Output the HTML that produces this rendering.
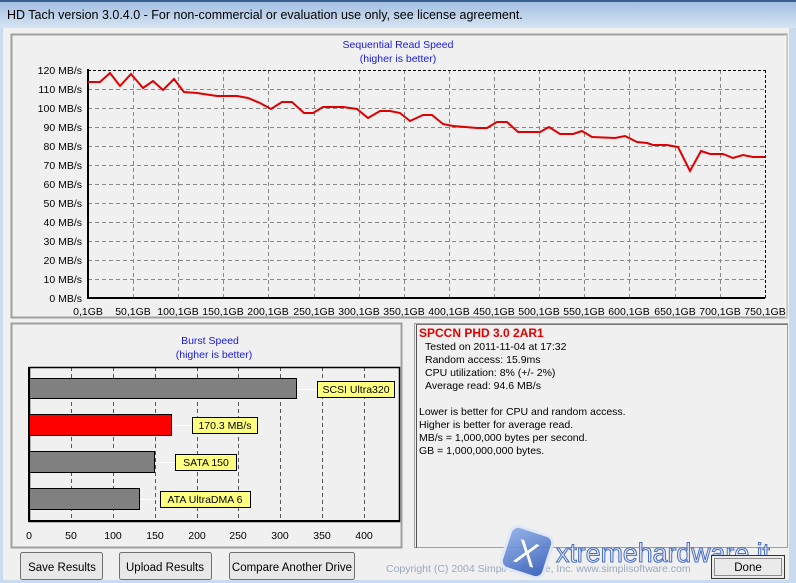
<!DOCTYPE html>
<html><head><meta charset="utf-8"><style>
html,body{margin:0;padding:0;width:796px;height:583px;overflow:hidden;background:#f0f0f0}
text{font-family:"Liberation Sans",Arial,sans-serif}
</style></head><body>
<svg width="796" height="583" xmlns="http://www.w3.org/2000/svg">
<defs>
<linearGradient id="tb" x1="0" y1="0" x2="0" y2="1"><stop offset="0" stop-color="#9fbce0"/><stop offset="1" stop-color="#d6e4f3"/></linearGradient>
<linearGradient id="wm" x1="0" y1="0" x2="1" y2="1"><stop offset="0" stop-color="#8fb0e8"/><stop offset="1" stop-color="#2f58b8"/></linearGradient>
</defs>
<rect x="0" y="0" width="796" height="583" fill="#c9dbef"/>
<rect x="0" y="0" width="796" height="28" fill="url(#tb)"/>
<rect x="0" y="0" width="796" height="2" fill="#3a5f8f"/>
<text x="7" y="19" font-size="12.5" fill="#000">HD Tach version 3.0.4.0  - For non-commercial or evaluation use only, see license agreement.</text>
<rect x="3" y="28" width="786" height="552" fill="#f0f0f0"/>
<rect x="11.5" y="34.5" width="775" height="283" fill="#f0f0f0" stroke="#a0a0a0" stroke-width="2"/>
<line x1="786" y1="35" x2="786" y2="318" stroke="#fff"/>
<text x="398" y="48" font-size="10.5" fill="#1a1adc" text-anchor="middle">Sequential Read Speed</text>
<text x="398" y="62" font-size="10.5" fill="#1a1adc" text-anchor="middle">(higher is better)</text>
<g stroke="#888" stroke-dasharray="4,3" stroke-width="1">
<line x1="88" y1="89.5" x2="765" y2="89.5"/><line x1="88" y1="108.5" x2="765" y2="108.5"/><line x1="88" y1="127.5" x2="765" y2="127.5"/><line x1="88" y1="146.5" x2="765" y2="146.5"/><line x1="88" y1="165.5" x2="765" y2="165.5"/><line x1="88" y1="184.5" x2="765" y2="184.5"/><line x1="88" y1="203.5" x2="765" y2="203.5"/><line x1="88" y1="222.5" x2="765" y2="222.5"/><line x1="88" y1="241.5" x2="765" y2="241.5"/><line x1="88" y1="260.5" x2="765" y2="260.5"/><line x1="88" y1="279.5" x2="765" y2="279.5"/>
<line x1="133.5" y1="70" x2="133.5" y2="298"/><line x1="178.5" y1="70" x2="178.5" y2="298"/><line x1="223.5" y1="70" x2="223.5" y2="298"/><line x1="268.5" y1="70" x2="268.5" y2="298"/><line x1="314.5" y1="70" x2="314.5" y2="298"/><line x1="359.5" y1="70" x2="359.5" y2="298"/><line x1="404.5" y1="70" x2="404.5" y2="298"/><line x1="449.5" y1="70" x2="449.5" y2="298"/><line x1="494.5" y1="70" x2="494.5" y2="298"/><line x1="539.5" y1="70" x2="539.5" y2="298"/><line x1="584.5" y1="70" x2="584.5" y2="298"/><line x1="629.5" y1="70" x2="629.5" y2="298"/><line x1="675.5" y1="70" x2="675.5" y2="298"/><line x1="720.5" y1="70" x2="720.5" y2="298"/>
</g>
<g stroke="#000" stroke-dasharray="3,2"><line x1="88" y1="70.5" x2="765" y2="70.5"/><line x1="765.5" y1="70" x2="765.5" y2="298"/></g>
<g stroke="#000" stroke-width="2"><line x1="88" y1="69" x2="88" y2="299"/><line x1="87" y1="298" x2="765" y2="298"/></g>
<g font-size="10.5" fill="#000" text-anchor="end">
<text x="82" y="74">120 MB/s</text><text x="82" y="93">110 MB/s</text><text x="82" y="112">100 MB/s</text><text x="82" y="131">90 MB/s</text><text x="82" y="150">80 MB/s</text><text x="82" y="169">70 MB/s</text><text x="82" y="188">60 MB/s</text><text x="82" y="207">50 MB/s</text><text x="82" y="226">40 MB/s</text><text x="82" y="245">30 MB/s</text><text x="82" y="264">20 MB/s</text><text x="82" y="283">10 MB/s</text><text x="82" y="302">0 MB/s</text>
</g>
<g font-size="10.5" fill="#000" text-anchor="middle">
<text x="88" y="315">0,1GB</text><text x="133" y="315">50,1GB</text><text x="178" y="315">100,1GB</text><text x="223" y="315">150,1GB</text><text x="268" y="315">200,1GB</text><text x="314" y="315">250,1GB</text><text x="359" y="315">300,1GB</text><text x="404" y="315">350,1GB</text><text x="449" y="315">400,1GB</text><text x="494" y="315">450,1GB</text><text x="539" y="315">500,1GB</text><text x="584" y="315">550,1GB</text><text x="629" y="315">600,1GB</text><text x="675" y="315">650,1GB</text><text x="720" y="315">700,1GB</text><text x="765" y="315">750,1GB</text>
</g>
<polyline fill="none" stroke="#e00000" stroke-width="2" points="88,82 100,82 110,73 120,86 131,74 143,88 153,81 163,90 174,79 184,92 197,93 217,96 237,96 248,98 260,103 271,109 282,102 292,102 304,113 313,113 323,107 343,107 357,109 368,118 380,111 390,111 400,113 410,121 423,115 432,115 443,124 453,126 477,128 487,128 497,122 507,122 518,132 540,132 549,127 560,134 573,134 582,131 592,137 615,138 625,136 637,142 647,143 653,145 667,145 678,147 690,171 701,151 710,154 723,154 733,158 743,155 753,157 765,157"/>
<rect x="11.5" y="323.5" width="390" height="224" fill="#f0f0f0" stroke="#a0a0a0" stroke-width="2"/>
<text x="210" y="344" font-size="10.5" fill="#1a1adc" text-anchor="middle">Burst Speed</text>
<text x="214" y="358" font-size="10.5" fill="#1a1adc" text-anchor="middle">(higher is better)</text>
<g stroke="#555" stroke-dasharray="4,3"><line x1="71.5" y1="367" x2="71.5" y2="521"/><line x1="113.5" y1="367" x2="113.5" y2="521"/><line x1="155.5" y1="367" x2="155.5" y2="521"/><line x1="197.5" y1="367" x2="197.5" y2="521"/><line x1="238.5" y1="367" x2="238.5" y2="521"/><line x1="280.5" y1="367" x2="280.5" y2="521"/><line x1="322.5" y1="367" x2="322.5" y2="521"/><line x1="364.5" y1="367" x2="364.5" y2="521"/></g>
<rect x="29.5" y="367.5" width="370" height="154" fill="none" stroke="#000" stroke-width="1.5"/>
<line x1="29" y1="367" x2="29" y2="522" stroke="#000" stroke-width="2"/>
<line x1="29" y1="521" x2="400" y2="521" stroke="#000" stroke-width="2"/>
<g stroke="#fff"><line x1="296" y1="389.5" x2="317" y2="389.5"/><line x1="171" y1="425.5" x2="192" y2="425.5"/><line x1="154" y1="462.5" x2="175" y2="462.5"/><line x1="139" y1="499.5" x2="160" y2="499.5"/></g>
<g stroke="#000"><rect x="29.5" y="378.5" width="267" height="20" fill="#808080"/><rect x="29.5" y="414.5" width="142" height="21" fill="#ff0000"/><rect x="29.5" y="451.5" width="125" height="21" fill="#808080"/><rect x="29.5" y="488.5" width="110" height="21" fill="#808080"/>
<rect x="317.5" y="381.5" width="77" height="16" fill="#ffff80"/><rect x="192.5" y="417.5" width="65" height="16" fill="#ffff80"/><rect x="175.5" y="454.5" width="61" height="16" fill="#ffff80"/><rect x="160.5" y="491.5" width="90" height="16" fill="#ffff80"/></g>
<g font-size="10.5" fill="#000" text-anchor="middle"><text x="356" y="393">SCSI Ultra320</text><text x="225" y="429">170.3 MB/s</text><text x="206" y="466">SATA 150</text><text x="205" y="503">ATA UltraDMA 6</text>
<text x="29" y="539">0</text><text x="71" y="539">50</text><text x="113" y="539">100</text><text x="155" y="539">150</text><text x="197" y="539">200</text><text x="238" y="539">250</text><text x="280" y="539">300</text><text x="322" y="539">350</text><text x="364" y="539">400</text></g>
<rect x="414.5" y="323.5" width="373" height="224" fill="#f0f0f0" stroke="#a0a0a0" stroke-width="1"/>
<line x1="416.5" y1="324" x2="416.5" y2="548" stroke="#555"/>
<line x1="416" y1="324.5" x2="788" y2="324.5" stroke="#777"/>
<text x="419" y="337" font-size="12" font-weight="bold" fill="#e00000">SPCCN PHD 3.0 2AR1</text>
<g font-size="10.5" fill="#000"><text x="425" y="350">Tested on 2011-11-04 at 17:32</text><text x="425" y="363">Random access: 15.9ms</text><text x="425" y="376">CPU utilization: 8% (+/- 2%)</text><text x="425" y="389">Average read: 94.6 MB/s</text>
<text x="419" y="415">Lower is better for CPU and random access.</text><text x="419" y="428">Higher is better for average read.</text><text x="419" y="441">MB/s = 1,000,000 bytes per second.</text><text x="419" y="454">GB = 1,000,000,000 bytes.</text></g>
<g stroke="#707070" fill="#e8e8e8"><rect x="20.5" y="552.5" width="82" height="27" rx="2"/><rect x="119.5" y="552.5" width="92" height="27" rx="2"/><rect x="229.5" y="552.5" width="125" height="27" rx="2"/></g>
<g font-size="11.5" fill="#000" text-anchor="middle"><text x="62" y="571">Save Results</text><text x="165" y="571">Upload Results</text><text x="292" y="571">Compare Another Drive</text></g>
<text x="386" y="572" font-size="10.5" fill="#9aa8c0">Copyright (C) 2004 Simpli Software, Inc. www.simplisoftware.com</text>
<g transform="rotate(18 527 552)" opacity="0.9"><rect x="505" y="530" width="44" height="44" rx="8" fill="url(#wm)" stroke="#dfe8f8" stroke-width="3"/><text x="527" y="565" font-size="34" fill="#fff" text-anchor="middle">X</text></g>
<text x="556" y="562" font-size="27" fill="#dde6f5" fill-opacity="0.6" stroke="#4a6fc0" stroke-width="1" textLength="214" lengthAdjust="spacingAndGlyphs">xtremehardware.it</text>
<rect x="711.5" y="555.5" width="73" height="23" fill="#eaeaea" stroke="#333"/>
<rect x="714.5" y="558.5" width="67" height="17" fill="none" stroke="#333" stroke-dasharray="1,1"/>
<text x="748" y="571" font-size="11.5" fill="#000" text-anchor="middle">Done</text>
</svg>
</body></html>
